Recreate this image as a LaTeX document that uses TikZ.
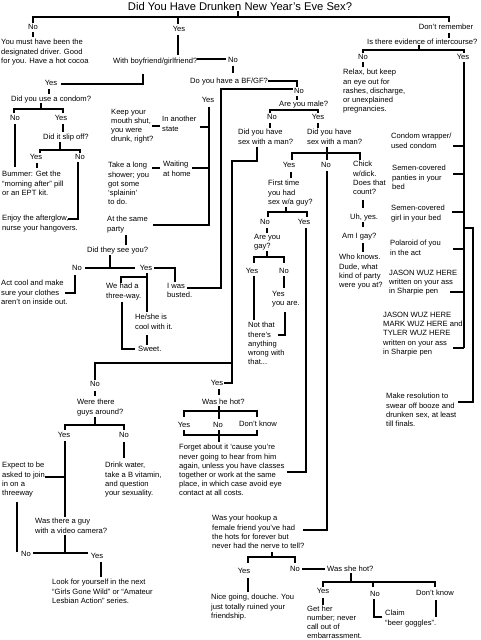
\documentclass[tikz,border=0pt]{standalone}
\usepackage{fontspec}
\setmainfont{Liberation Sans}
\begin{document}
\begin{tikzpicture}[x=1pt,y=-1pt,
  txt/.style={font=\fontsize{7.6}{9.1}\selectfont, inner sep=0pt, align=left, anchor=north west, yshift=6.37pt, execute at begin node=\strut},
  lbl/.style={font=\fontsize{7.6}{9.1}\selectfont, inner sep=0pt, anchor=base},
  ln/.style={line width=1.5pt}]
\fill[white] (0,0) rectangle (480,640);
\useasboundingbox (0,0) rectangle (480,640);
% ---------- texts ----------
\node[font=\fontsize{11.2}{13}\selectfont, inner sep=0pt, anchor=base] (title) at (240,10) {Did You Have Drunken New Year's Eve Sex?};
\node[lbl] (noA) at (33,29.6) {No};
\node[lbl] (yesA) at (179,31.6) {Yes};
\node[lbl] (dontrem) at (446,29.6) {Don't remember};
\node[txt] (designated) at (1,45.6) {You must have been the\\designated driver. Good\\for you. Have a hot cocoa};
\node[txt] (withbf) at (113,63.6) {With boyfriend/girlfriend?};
\node[lbl] (noB) at (233,62.6) {No};
\node[txt] (bfgf) at (190,83.6) {Do you have a BF/GF?};
\node[lbl] (noC) at (299,93.6) {No};
\node[lbl] (yesC) at (208,102.6) {Yes};
\node[txt] (male) at (279,106.6) {Are you male?};
\node[lbl] (noD) at (272,119.6) {No};
\node[lbl] (yesD) at (318,119.6) {Yes};
\node[txt] (sexF) at (238,135.6) {Did you have\\sex with a man?};
\node[txt] (sexM) at (307,135.6) {Did you have\\sex with a man?};
\node[lbl] (yesB) at (51,85.6) {Yes};
\node[txt] (condom) at (11,101.6) {Did you use a condom?};
\node[lbl] (noE) at (15,120.6) {No};
\node[lbl] (yesE) at (61,120.6) {Yes};
\node[txt] (slip) at (43,139.6) {Did it slip off?};
\node[lbl] (yesF) at (36,159.6) {Yes};
\node[lbl] (noF) at (80,159.6) {No};
\node[txt] (bummer) at (2,177.6) {Bummer: Get the\\“morning after” pill\\or an EPT kit.};
\node[txt] (afterglow) at (2,221.6) {Enjoy the afterglow,\\nurse your hangovers.};
\node[txt] (keep) at (111,115.6) {Keep your\\mouth shut,\\you were\\drunk, right?};
\node[txt] (another) at (162,122.6) {In another\\state};
\node[txt] (shower) at (108,168.6) {Take a long\\shower; you\\got some\\‘splainin’\\to do.};
\node[txt] (waiting) at (163,167.6) {Waiting\\at home};
\node[txt] (party) at (107,222.6) {At the same\\party};
\node[txt] (see) at (87,252.6) {Did they see you?};
\node[lbl] (noG) at (77,270.6) {No};
\node[lbl] (yesG) at (146,270.6) {Yes};
\node[txt] (actcool) at (1,286.6) {Act cool and make\\sure your clothes\\aren't on inside out.};
\node[txt] (threeway) at (106,289.6) {We had a\\three-way.};
\node[txt] (busted) at (167,289.6) {I was\\busted.};
\node[txt] (cool) at (135,320.6) {He/she is\\cool with it.};
\node[txt] (sweet) at (138,351.6) {Sweet.};
\node[lbl] (noH) at (95,386.6) {No};
\node[txt] (guys) at (77,405.6) {Were there\\guys around?};
\node[lbl] (yesI) at (64,437.6) {Yes};
\node[lbl] (noI) at (124,437.6) {No};
\node[txt] (expect) at (2,468.6) {Expect to be\\asked to join\\in on a\\threeway};
\node[txt] (drink) at (105,468.6) {Drink water,\\take a B vitamin,\\and question\\your sexuality.};
\node[txt] (video) at (35,524.6) {Was there a guy\\with a video camera?};
\node[lbl] (noJ) at (26,556.6) {No};
\node[lbl] (yesJ) at (97,558.6) {Yes};
\node[txt] (look) at (52,585.6) {Look for yourself in the next\\“Girls Gone Wild” or “Amateur\\Lesbian Action” series.};
\node[lbl] (yesK) at (217,385.6) {Yes};
\node[txt] (hot) at (202,404.6) {Was he hot?};
\node[lbl] (yesL) at (184,427.6) {Yes};
\node[lbl] (noL) at (218,427.6) {No};
\node[lbl] (dkL) at (258,426.6) {Don't know};
\node[txt] (forget) at (179,450.6) {Forget about it ‘cause you're\\never going to hear from him\\again, unless you have classes\\together or work at the same\\place, in which case avoid eye\\contact at all costs.};
\node[txt] (hookup) at (212,521.6) {Was your hookup a\\female friend you've had\\the hots for forever but\\never had the nerve to tell?};
\node[lbl] (yesM) at (244,573.6) {Yes};
\node[lbl] (noM) at (295,571.6) {No};
\node[txt] (nice) at (211,600.6) {Nice going, douche. You\\just totally ruined your\\friendship.};
\node[txt] (shehot) at (327,571.6) {Was she hot?};
\node[lbl] (yesN) at (323,593.6) {Yes};
\node[lbl] (noN) at (375,596.6) {No};
\node[lbl] (dkN) at (435,595.6) {Don't know};
\node[txt, font=\fontsize{7.6}{8.7}\selectfont] (gether) at (307,612.6) {Get her\\number; never\\call out of\\embarrassment.};
\node[txt] (claim) at (385,616.6) {Claim\\“beer goggles”.};
\node[lbl] (yesO) at (289,167.6) {Yes};
\node[lbl] (noO) at (326,167.6) {No};
\node[txt] (chick) at (353,167.6) {Chick\\w/dick.\\Does that\\count?};
\node[txt] (uhyes) at (350,219.6) {Uh, yes.};
\node[txt] (amigay) at (342,238.6) {Am I gay?};
\node[txt] (whoknows) at (339,260.6) {Who knows.\\Dude, what\\kind of party\\were you at?};
\node[txt] (first) at (268,186.6) {First time\\you had\\sex w/a guy?};
\node[lbl] (noP) at (265,224.6) {No};
\node[lbl] (yesP) at (304,224.6) {Yes};
\node[txt] (areyougay) at (254,240.6) {Are you\\gay?};
\node[lbl] (yesQ) at (252,273.6) {Yes};
\node[lbl] (noQ) at (284,273.6) {No};
\node[txt] (yesyouare) at (272,297.6) {Yes\\you are.};
\node[txt] (notthat) at (248,328.6) {Not that\\there's\\anything\\wrong with\\that...};
\node[txt] (evidence) at (367,44.6) {Is there evidence of intercourse?};
\node[lbl] (noR) at (363,59.6) {No};
\node[lbl] (yesR) at (463,59.6) {Yes};
\node[txt] (relax) at (343,75.6) {Relax, but keep\\an eye out for\\rashes, discharge,\\or unexplained\\pregnancies.};
\node[txt] (wrapper) at (391,139.6) {Condom wrapper/\\used condom};
\node[txt] (panties) at (392,171.6) {Semen-covered\\panties in your\\bed};
\node[txt] (girl) at (391,211.6) {Semen-covered\\girl in your bed};
\node[txt] (polaroid) at (390,246.6) {Polaroid of you\\in the act};
\node[txt] (jason) at (389,276.6) {JASON WUZ HERE\\written on your ass\\in Sharpie pen};
\node[txt] (jasonmark) at (383,318.6) {JASON WUZ HERE\\MARK WUZ HERE and\\TYLER WUZ HERE\\written on your ass\\in Sharpie pen};
\node[txt] (resolution) at (386,399.6) {Make resolution to\\swear off booze and\\drunken sex, at least\\till finals.};
% ---------- connectors ----------
\draw[ln] (238,11) -- (238,17);
\draw[ln] (33,23) -- (33,17) -- (449,17) -- (449,22);
\draw[ln] (178,17) -- (178,24);
\draw[ln] (449,33) -- (449,38);
\draw[ln] (33,32) -- (33,37);
\draw[ln] (178,35) -- (178,55);
\draw[ln] (197,59) -- (226,59);
\draw[ln] (233,66) -- (233,73);
\draw[ln] (268,81) -- (297,81) -- (297,87);
\draw[ln] (297,96) -- (297,100);
\draw[ln] (143,74) -- (143,84) -- (61,84);
\draw[ln] (49,89) -- (49,94);
\draw[ln] (41,103) -- (41,109);
\draw[ln] (14,113) -- (14,109) -- (63,109) -- (63,113);
\draw[ln] (15,124) -- (15,167);
\draw[ln] (63,124) -- (63,132);
\draw[ln] (60,142) -- (60,150);
\draw[ln] (40,153) -- (40,150) -- (80,150) -- (80,153);
\draw[ln] (37,163) -- (37,168);
\draw[ln] (78,162) -- (78,219) -- (68,219);
\draw[ln] (152,126) -- (160,126);
\draw[ln] (200,127) -- (209,127);
\draw[ln] (209,107) -- (209,225) -- (153,225);
\draw[ln] (192,168) -- (209,168);
\draw[ln] (152,168) -- (160,168);
\draw[ln] (126,235) -- (126,245);
\draw[ln] (110,255) -- (110,268);
\draw[ln] (85,268) -- (135,268);
\draw[ln] (154,268) -- (175,268) -- (175,282);
\draw[ln] (75,275) -- (75,293) -- (65,293);
\draw[ln] (147,273) -- (147,312);
\draw[ln] (147,277) -- (121,277) -- (121,283);
\draw[ln] (122,302) -- (122,349) -- (135,349);
\draw[ln] (147,335) -- (147,345);
\draw[ln] (187,288) -- (221,288) -- (221,89) -- (293,89);
\draw[ln] (257,147) -- (257,161) -- (232,161) -- (232,383) -- (224,383);
\draw[ln] (232,363) -- (95,363) -- (95,380);
\draw[ln] (95,391) -- (95,396);
\draw[ln] (95,417) -- (95,425);
\draw[ln] (65,430) -- (65,425) -- (124,425) -- (124,430);
\draw[ln] (65,441) -- (65,517);
\draw[ln] (65,477) -- (45,477);
\draw[ln] (124,442) -- (124,458);
\draw[ln] (65,535) -- (65,553);
\draw[ln] (33,553) -- (88,553);
\draw[ln] (17,552) -- (17,502);
\draw[ln] (101,562) -- (101,577);
\draw[ln] (219,389) -- (219,395);
\draw[ln] (219,406) -- (219,419);
\draw[ln] (184,417) -- (184,411) -- (257,411) -- (257,417);
\draw[ln] (184,430) -- (184,435) -- (257,435) -- (257,430);
\draw[ln] (219,430) -- (219,442);
\draw[ln] (270,113) -- (270,110) -- (318,110) -- (318,113);
\draw[ln] (270,123) -- (270,128);
\draw[ln] (318,123) -- (318,128);
\draw[ln] (327,147) -- (327,160);
\draw[ln] (292,160) -- (292,153) -- (360,153) -- (360,160);
\draw[ln] (291,172) -- (291,178);
\draw[ln] (327,171) -- (327,530) -- (303,530);
\draw[ln] (363,200) -- (363,208);
\draw[ln] (363,222) -- (363,227);
\draw[ln] (363,243) -- (363,252);
\draw[ln] (286,207) -- (286,212);
\draw[ln] (268,217) -- (268,212) -- (307,212) -- (307,217);
\draw[ln] (267,228) -- (267,233);
\draw[ln] (267,251) -- (267,257);
\draw[ln] (254,263) -- (254,257) -- (284,257) -- (284,263);
\draw[ln] (254,276) -- (254,320);
\draw[ln] (284,276) -- (284,288);
\draw[ln] (285,312) -- (285,335) -- (278,335);
\draw[ln] (306,228) -- (306,472) -- (287,472);
\draw[ln] (272,552) -- (272,557);
\draw[ln] (248,563) -- (248,557) -- (295,557) -- (295,563);
\draw[ln] (248,578) -- (248,592);
\draw[ln] (302,569) -- (325,569);
\draw[ln] (351,573) -- (351,582);
\draw[ln] (323,587) -- (323,582) -- (435,582) -- (435,587);
\draw[ln] (373,582) -- (373,587);
\draw[ln] (323,598) -- (323,605);
\draw[ln] (374,599) -- (374,617) -- (382,617);
\draw[ln] (436,600) -- (436,617);
\draw[ln] (419,45) -- (419,50);
\draw[ln] (363,53) -- (363,50) -- (464,50) -- (464,53);
\draw[ln] (363,62) -- (363,67);
\draw[ln] (464,62) -- (464,348);
\draw[ln] (453,146) -- (464,146);
\draw[ln] (453,174) -- (464,174);
\draw[ln] (452,212) -- (464,212);
\draw[ln] (453,249) -- (464,249);
\draw[ln] (450,292) -- (464,292);
\draw[ln] (453,348) -- (464,348);
\draw[ln] (464,228) -- (473,228) -- (473,402) -- (458,402);
\end{tikzpicture}
\end{document}
